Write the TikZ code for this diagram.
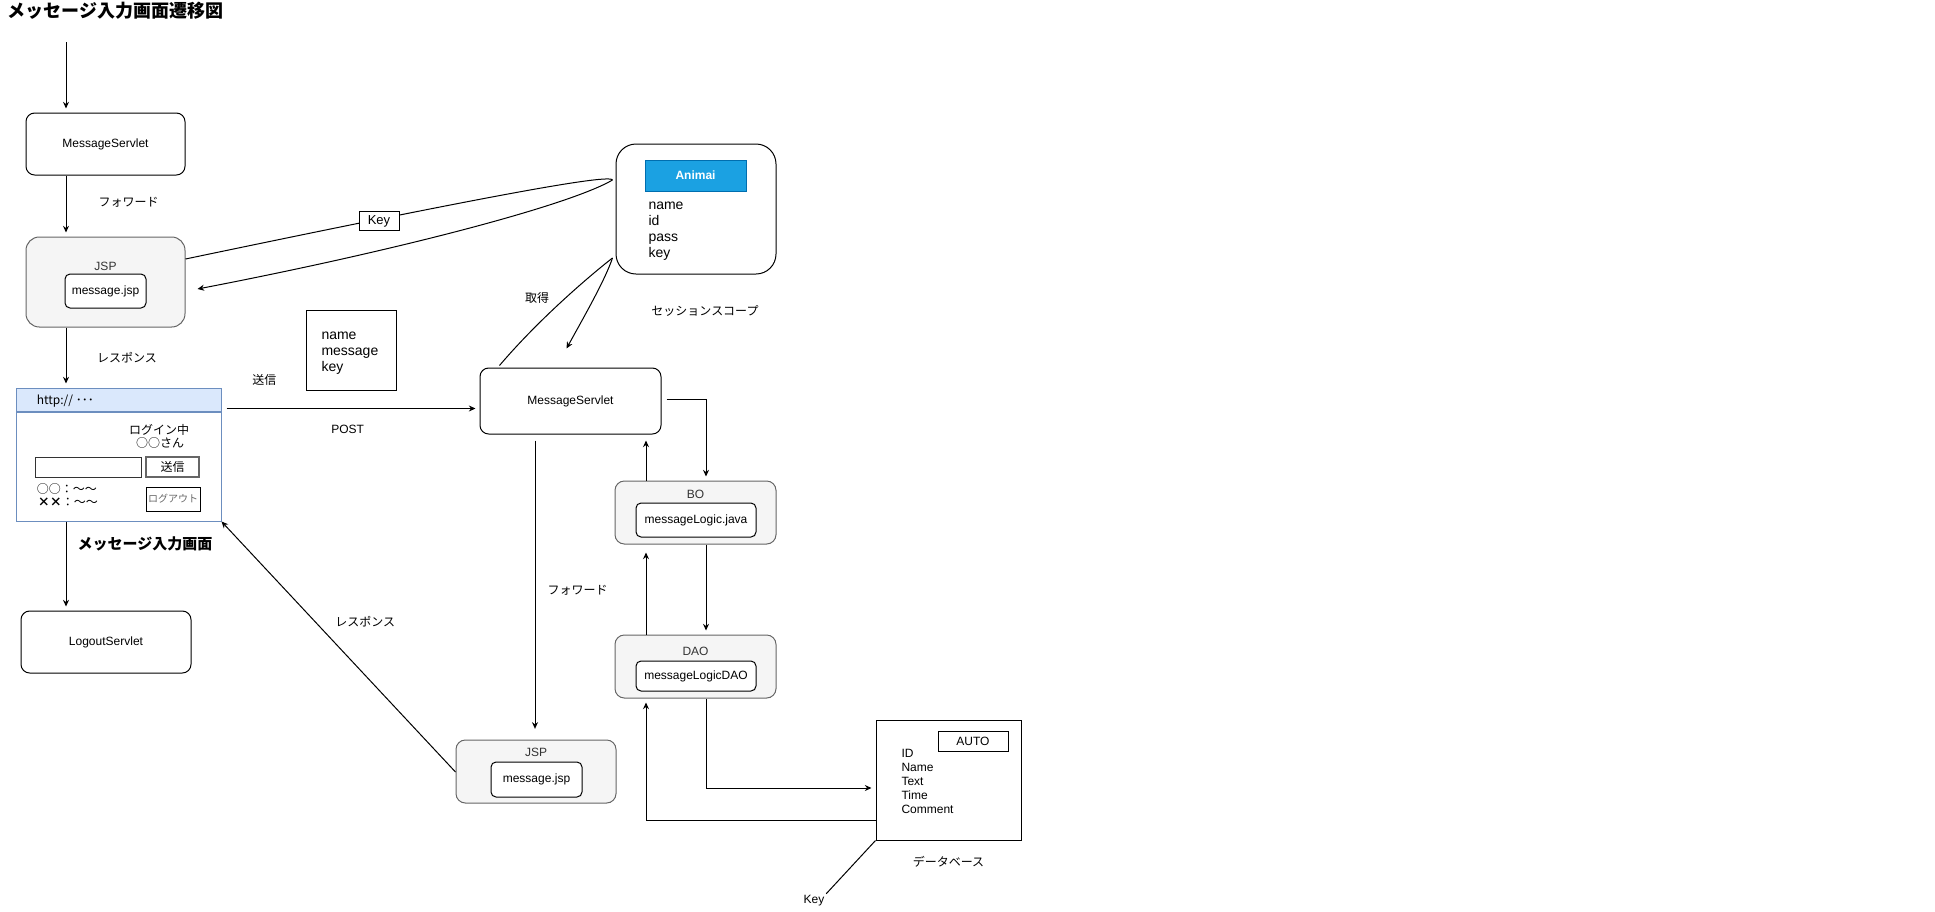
\documentclass[tikz,border=0pt]{standalone}
\usepackage{fontspec}
\setmainfont{Liberation Sans}
\newfontfamily\jp{Noto Sans CJK JP}
\usetikzlibrary{arrows.meta, positioning, calc}

\definecolor{grpfill}{HTML}{F5F5F5}
\definecolor{grpline}{HTML}{666666}
\definecolor{grptext}{HTML}{333333}
\definecolor{barfill}{HTML}{DAE8FC}
\definecolor{barline}{HTML}{6C8EBF}
\definecolor{hdfill}{HTML}{1BA1E2}
\definecolor{hdline}{HTML}{006EAF}

\begin{document}
\begin{tikzpicture}[
    x=0.75pt, y=-0.75pt, line width=0.75pt,
    sz/.style 2 args={minimum width=#1*0.75pt, minimum height=#2*0.75pt},
    msbox/.style={rectangle, draw, rounded corners=6.5pt, inner sep=0pt, font=\fontsize{9}{11}\selectfont},
    grpbox/.style={rectangle, draw=grpline, fill=grpfill, rounded corners=7pt, inner sep=0pt},
    filebox/.style={rectangle, draw, fill=white, rounded corners=3.75pt, inner sep=0pt, font=\fontsize{9}{11}\selectfont},
    sqbox/.style={rectangle, draw, inner sep=0pt},
    txt/.style={font=\fontsize{9}{11}\selectfont, inner sep=1pt},
    grptxt/.style={txt, text=grptext},
    jlbl/.style={font=\jp\fontsize{9}{11}\selectfont, inner sep=1pt},
    arrow/.style={-{Stealth[length=5pt, width=4.5pt]}, shorten >=3pt}
]

    \useasboundingbox (0,0) rectangle (1935,911);

    % Title
    \node[font=\jp\bfseries\fontsize{13.5}{16}\selectfont, anchor=west, inner sep=0pt] (title) at (7,11) {メッセージ入力画面遷移図};

    % --- Left column ---
    \coordinate (entry) at (66,42);
    \node[msbox, sz={159}{62}] (ms1) at (105.5,144) {MessageServlet};

    \node[grpbox, sz={159}{90}, rounded corners=10pt] (jsp1) at (105.5,282) {};
    \node[grptxt] at (105.5,266) {JSP};
    \node[filebox, sz={81}{34}] (mjsp1) at (105.5,291) {message.jsp};

    % Browser window
    \node[sqbox, draw=barline, fill=barfill, sz={205}{23}] (hdr) at (118.5,399.5) {};
    \node[sqbox, draw=barline, fill=white, sz={205}{109}, anchor=north] (brw) at (hdr.south) {};
    \node[jlbl, anchor=west] at (35,401) {http:// ･･･};
    \node[jlbl] at (159,430) {ログイン中};
    \node[jlbl] at (160,443) {○○さん};
    \node[sqbox, draw=black!80, sz={106}{20}] (msgin) at (88,467) {};
    \node[sqbox, draw=grpline, line width=1.2pt, sz={53}{20}, font=\jp\fontsize{9}{11}\selectfont] (send) at (172.5,467) {送信};
    \node[jlbl, anchor=west] at (35,489) {○○：～～};
    \node[jlbl, anchor=west] at (36,502) {\textbf{××}：～～};
    \node[sqbox, sz={54}{24}, text=grpline, font=\jp\fontsize{7.5}{9}\selectfont] (logoutbtn) at (173,499) {ログアウト};
    \node[font=\jp\bfseries\fontsize{11.25}{13}\selectfont] (scrname) at (145,544) {メッセージ入力画面};

    \node[msbox, sz={170}{62}] (logout) at (106,642) {LogoutServlet};

    % --- Session scope ---
    \node[sqbox, rounded corners=15pt, sz={160}{130}] (sess) at (696,209) {};
    \node[sqbox, draw=hdline, fill=hdfill, text=white, font=\bfseries\fontsize{9}{11}\selectfont, sz={101}{31}] (animai) at (695.5,175.5) {Animai};
    \node[anchor=west, align=left, inner sep=0pt, font=\fontsize{10.5}{12}\selectfont] (sessf) at (648,231) {name\\id\\pass\\key};
    \node[jlbl] (scope) at (705,311) {セッションスコープ};

    % Sent parameters
    \node[sqbox, sz={90}{80}] (params) at (351,350) {};
    \node[anchor=west, align=left, inner sep=0pt, font=\fontsize{10.5}{12}\selectfont] at (321,353) {name\\message\\key};

    % --- Right column ---
    \node[msbox, sz={181}{66}] (ms2) at (570.5,401) {MessageServlet};

    \node[grpbox, sz={161}{63}] (bo) at (695.5,512.5) {};
    \node[grptxt] at (695.5,494) {BO};
    \node[filebox, sz={120}{34}] (logic) at (696,520) {messageLogic.java};

    \node[grpbox, sz={161}{63}] (dao) at (695.5,666.5) {};
    \node[grptxt] at (695.5,651) {DAO};
    \node[filebox, sz={120}{30}] (logicdao) at (696,676) {messageLogicDAO};

    \node[grpbox, sz={160}{63}] (jsp2) at (536,771.5) {};
    \node[grptxt] at (536,752) {JSP};
    \node[filebox, sz={91}{35}] (mjsp2) at (536.5,779.5) {message.jsp};

    % Database
    \node[sqbox, sz={145}{120}] (db) at (948.5,780) {};
    \node[sqbox, sz={70}{20}, font=\fontsize{9}{11}\selectfont] (auto) at (973,741) {AUTO};
    \node[anchor=west, align=left, inner sep=0pt, font=\fontsize{9}{10.5}\selectfont] (cols) at (901,781) {ID\\Name\\Text\\Time\\Comment};
    \node[jlbl] (dblbl) at (948.5,862) {データベース};
    \node[txt] (dbkey) at (814,901) {Key};

    % --- Connectors ---
    \draw[arrow] (entry) -- (entry |- ms1.north);
    \draw[arrow] (entry |- ms1.south) -- (entry |- jsp1.north)
        node[jlbl, midway, right=23pt, yshift=3pt] {フォワード};
    \draw[arrow] (entry |- jsp1.south) -- (entry |- hdr.north)
        node[jlbl, midway, right=22pt] {レスポンス};
    \draw[arrow] (entry |- brw.south) -- (entry |- logout.north);

    % POST
    \coordinate (postpt) at ($(hdr.south east)+(5,-3)$);
    \draw[arrow] (postpt) -- (postpt -| ms2.west)
        node[txt, midway, below=11pt, xshift=-4pt] {POST}
        node[jlbl, pos=0.15, above=16pt] {送信};

    % Key loop with session
    \coordinate (tipA) at ($(sess.west)+(-3,-29)$);
    \coordinate (tipB) at ($(sess.west)+(-3,49)$);
    \draw ($(jsp1.east)+(0,-23)$) .. controls (420,210) and (610,172) .. (tipA);
    \draw[arrow, shorten >=0pt] (tipA) .. controls (570,205) and (400,250) .. ($(jsp1.east)+(12,7)$);
    \node[sqbox, fill=white, sz={40}{19}, font=\fontsize{9.75}{11}\selectfont] (keylbl) at (379,221) {Key};

    % get from session
    \draw ($(ms2.north west)+(20,-2)$) .. controls (545,312) and (602,266) .. (tipB);
    \draw[arrow, shorten >=0pt] (tipB) .. controls (605,280) and (585,315) .. ($(ms2.north)+(-4,-19)$);
    \node[jlbl] (getlbl) at (537,298) {取得};

    % Servlet <-> BO <-> DAO <-> DB
    \draw[arrow] ($(ms2.east)+(5,-2)$) -| ($(bo.north)+(10.5,0)$);
    \draw[arrow, shorten >=4.5pt] ($(bo.north)+(-49.5,0)$) -- ($(ms2.south)+(75.5,0)$);
    \draw[arrow] ($(bo.south)+(10.5,0)$) -- ($(dao.north)+(10.5,0)$);
    \draw[arrow, shorten >=6pt] ($(dao.north)+(-49.5,0)$) -- ($(bo.south)+(-49.5,0)$);
    \draw[arrow] ($(dao.south)+(10.5,0)$) |- ($(db.west)+(0,8)$);
    \draw[arrow] ($(db.west)+(0,40)$) -| ($(dao.south)+(-49.5,0)$);
    \draw (db.south west) -- (dbkey.north east);

    % forward to JSP and response
    \coordinate (fwdpt) at ($(ms2.south)+(-35.5,6)$);
    \draw[arrow, shorten >=8pt] (fwdpt) -- (fwdpt |- jsp2.north)
        node[jlbl, midway, right=8pt] {フォワード};
    \draw[arrow, shorten >=0pt] ($(jsp2.west)+(0,0.5)$) -- (brw.south east)
        node[jlbl, midway, xshift=20pt, yshift=19pt] {レスポンス};

\end{tikzpicture}
\end{document}
